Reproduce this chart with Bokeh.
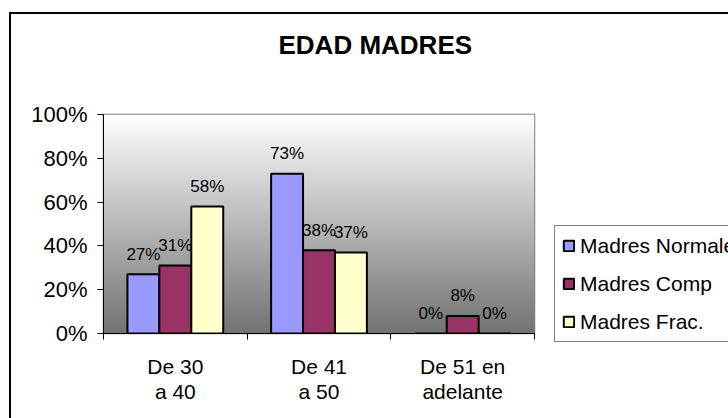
import numpy as np
from bokeh.plotting import figure
from bokeh.models import (Range1d, FixedTicker, PrintfTickFormatter, Legend, LegendItem,
                          ColumnDataSource, Title)
from bokeh.core.properties import value
from bokeh.embed import file_html
from bokeh.resources import INLINE

# ---- data ----
title_text = "EDAD MADRES"
categories = ["De 30\na 40", "De 41\na 50", "De 51 en\nadelante"]
series_names = ["Madres Normales", "Madres Comp", "Madres Frac."]
madres_normales = [27, 73, 0]
madres_comp = [31, 38, 8]
madres_frac = [58, 37, 0]
y_ticks = [0, 20, 40, 60, 80, 100]

# ---- style ----
colors = ["#9999FF", "#993366", "#FFFFCC"]
FONT = "Liberation Sans"

p = figure(frame_width=431, frame_height=219, title_location=None,
           min_border_left=103, min_border_right=194, min_border_top=114, min_border_bottom=85,
           x_range=Range1d(0, len(categories)), y_range=Range1d(0, 100),
           output_backend="svg", toolbar_location=None)
p.background_fill_color = "white"
p.border_fill_color = "white"
p.outline_line_color = "#808080"
p.outline_line_width = 1.5
p.xgrid.visible = False
p.ygrid.visible = False

# blank spacer row just above the plot area, then the real title above it
p.add_layout(Title(text=" ", standoff=47, text_font=FONT, text_font_size="1px",
                   text_color="white"), "above")
p.add_layout(Title(text=title_text, align="left", offset=175, standoff=10,
                   text_font=FONT, text_font_size="26px", text_font_style="bold",
                   text_color="black"), "above")

# gradient plot-area background (white at top to grey at bottom)
n = 256
shade = np.linspace(115, 255, n).astype(np.uint8)
img = np.empty((n, 1), dtype=np.uint32)
view = img.view(dtype=np.uint8).reshape((n, 1, 4))
view[:, 0, 0] = shade
view[:, 0, 1] = shade
view[:, 0, 2] = shade
view[:, 0, 3] = 255
p.image_rgba(image=[img], x=0, y=0, dw=len(categories), dh=100)

# bars
group = 2.0 / 3.0
bw = group / 3.0
offsets = [-bw, 0.0, bw]
centers = [i + 0.5 for i in range(len(categories))]
renderers = []
for k, (name, vals) in enumerate(zip(series_names, [madres_normales, madres_comp, madres_frac])):
    src = ColumnDataSource(dict(x=[c + offsets[k] for c in centers], top=vals,
                                label=[f"{v}%" for v in vals]))
    r = p.vbar(x="x", top="top", width=bw, source=src, fill_color=colors[k],
               line_color="black", line_width=2)
    renderers.append(r)
    p.text(x="x", y="top", text="label", source=src, text_align="center",
           text_baseline="alphabetic", y_offset=-20, text_font=value(FONT),
           text_font_size="17px", text_color="black")

# x axis
xaxis = p.below[0]
xaxis.ticker = FixedTicker(ticks=centers, minor_ticks=list(range(len(categories) + 1)))
xaxis.major_label_overrides = {c: lab for c, lab in zip(centers, categories)}
xaxis.major_tick_line_color = None
xaxis.major_tick_out = 0
xaxis.major_tick_in = 0
xaxis.minor_tick_line_color = "black"
xaxis.minor_tick_out = 6
xaxis.minor_tick_in = 0
xaxis.axis_line_color = "black"
xaxis.major_label_standoff = 15
xaxis.major_label_text_font = FONT
xaxis.major_label_text_font_size = "21px"
xaxis.major_label_text_line_height = 1.1
xaxis.major_label_text_color = "black"

# y axis
p.yaxis.ticker = FixedTicker(ticks=y_ticks)
p.yaxis.formatter = PrintfTickFormatter(format="%d%%")
p.yaxis.major_tick_out = 6
p.yaxis.major_tick_in = 0
p.yaxis.major_tick_line_color = "black"
p.yaxis.minor_tick_line_color = None
p.yaxis.axis_line_color = "black"
p.yaxis.major_label_standoff = 10
p.yaxis.major_label_text_font = FONT
p.yaxis.major_label_text_font_size = "22px"
p.yaxis.major_label_text_color = "black"

# legend (in the right panel, partly running past the chart's right edge)
legend = Legend(items=[LegendItem(label=nm, renderers=[r]) for nm, r in zip(series_names, renderers)],
                location=(20, -9), orientation="vertical",
                glyph_width=13, glyph_height=13, label_height=25, label_standoff=5,
                spacing=13, padding=7, margin=-20,
                label_text_font=FONT, label_text_font_size="21px", label_text_color="black",
                border_line_color="black", border_line_width=1,
                background_fill_color="white", background_fill_alpha=1.0)
p.add_layout(legend, "right")

# outer chart border (left and top edges are inside the window)
p.stylesheets = [
    ":host { position: relative; }",
    ":host::after { content: ''; position: absolute; left: 9px; top: 12px; right: 0px; bottom: 0px;"
    " border-left: 2px solid black; border-top: 2px solid black; pointer-events: none; }",
]

open("out.html", "w").write(file_html(p, INLINE))
